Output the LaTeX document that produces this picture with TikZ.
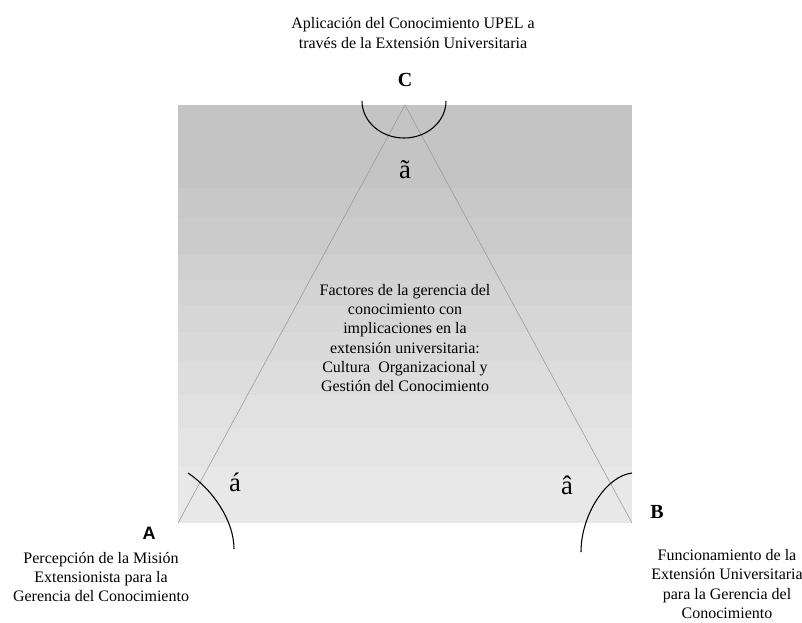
\documentclass[tikz,border=0pt]{standalone}
\usepackage{fontspec}
\setmainfont{Liberation Serif}
\newfontfamily\arialfont{Liberation Sans}
\usepackage{tikz}
\usetikzlibrary{calc}
\definecolor{edgegray}{RGB}{150,150,150}
\tikzset{
	txt/.style={font=\fontsize{12}{14.5}\selectfont, align=center, inner sep=0pt},
	corner/.style={font=\fontsize{15}{16}\selectfont\bfseries, inner sep=0pt},
	angle/.style={font=\fontsize{20}{21}\selectfont, inner sep=0pt},
}
\begin{document}
\begin{tikzpicture}[x=0.75pt,y=-0.75pt]
	\useasboundingbox (0,0) rectangle (802,622);
	% shaded background in bands
	\foreach[count=\i] \top/\bot in {105/188,188/218,218/255,255/280,280/305,305/332,332/362,362/395,395/428,428/467,467/523} {
		\pgfmathsetmacro{\shade}{23-(\i-1)*1.4}
		\fill[black!\shade] (178,\top) rectangle (632,\bot);
	}
	% corners of the triangle
	\coordinate (A) at (178,523);
	\coordinate (B) at (632,523);
	\coordinate (C) at (405,105);
	\draw[edgegray] (A) -- (C) -- (B);
	% angle arcs
	\draw[thick] (362,101) arc[start angle=180, end angle=0, x radius=42, y radius=37];
	\draw[thick] (188,473) .. controls (212,489) and (234,520) .. (234,549);
	\draw[thick] (632,473) .. controls (606,476) and (581,515) .. (581,552);
	% labels
	\node[corner] (lc) at (405,80) {C};
	\node[corner] (lb) at (657,512) {B};
	\node[corner, font=\fontsize{13.5}{15}\selectfont\bfseries\arialfont] (la) at (149,533) {A};
	\node[angle] (gc) at (405,170) {ã};
	\node[angle] (ga) at (235,482) {á};
	\node[angle] (gb) at (567,485) {â};
	\node[txt] (top) at (413,33) {Aplicación del Conocimiento UPEL a\\través de la Extensión Universitaria};
	\node[txt] (mid) at (405,338) {Factores de la gerencia del\\conocimiento con\\implicaciones en la\\extensión universitaria:\\Cultura~ Organizacional y\\Gestión del Conocimiento};
	\node[txt] (left) at (101,577) {Percepción de la Misión\\Extensionista para la\\Gerencia del Conocimiento};
	\node[txt] (right) at (727,584) {Funcionamiento de la\\Extensión Universitaria\\para la Gerencia del\\Conocimiento};
\end{tikzpicture}
\end{document}
